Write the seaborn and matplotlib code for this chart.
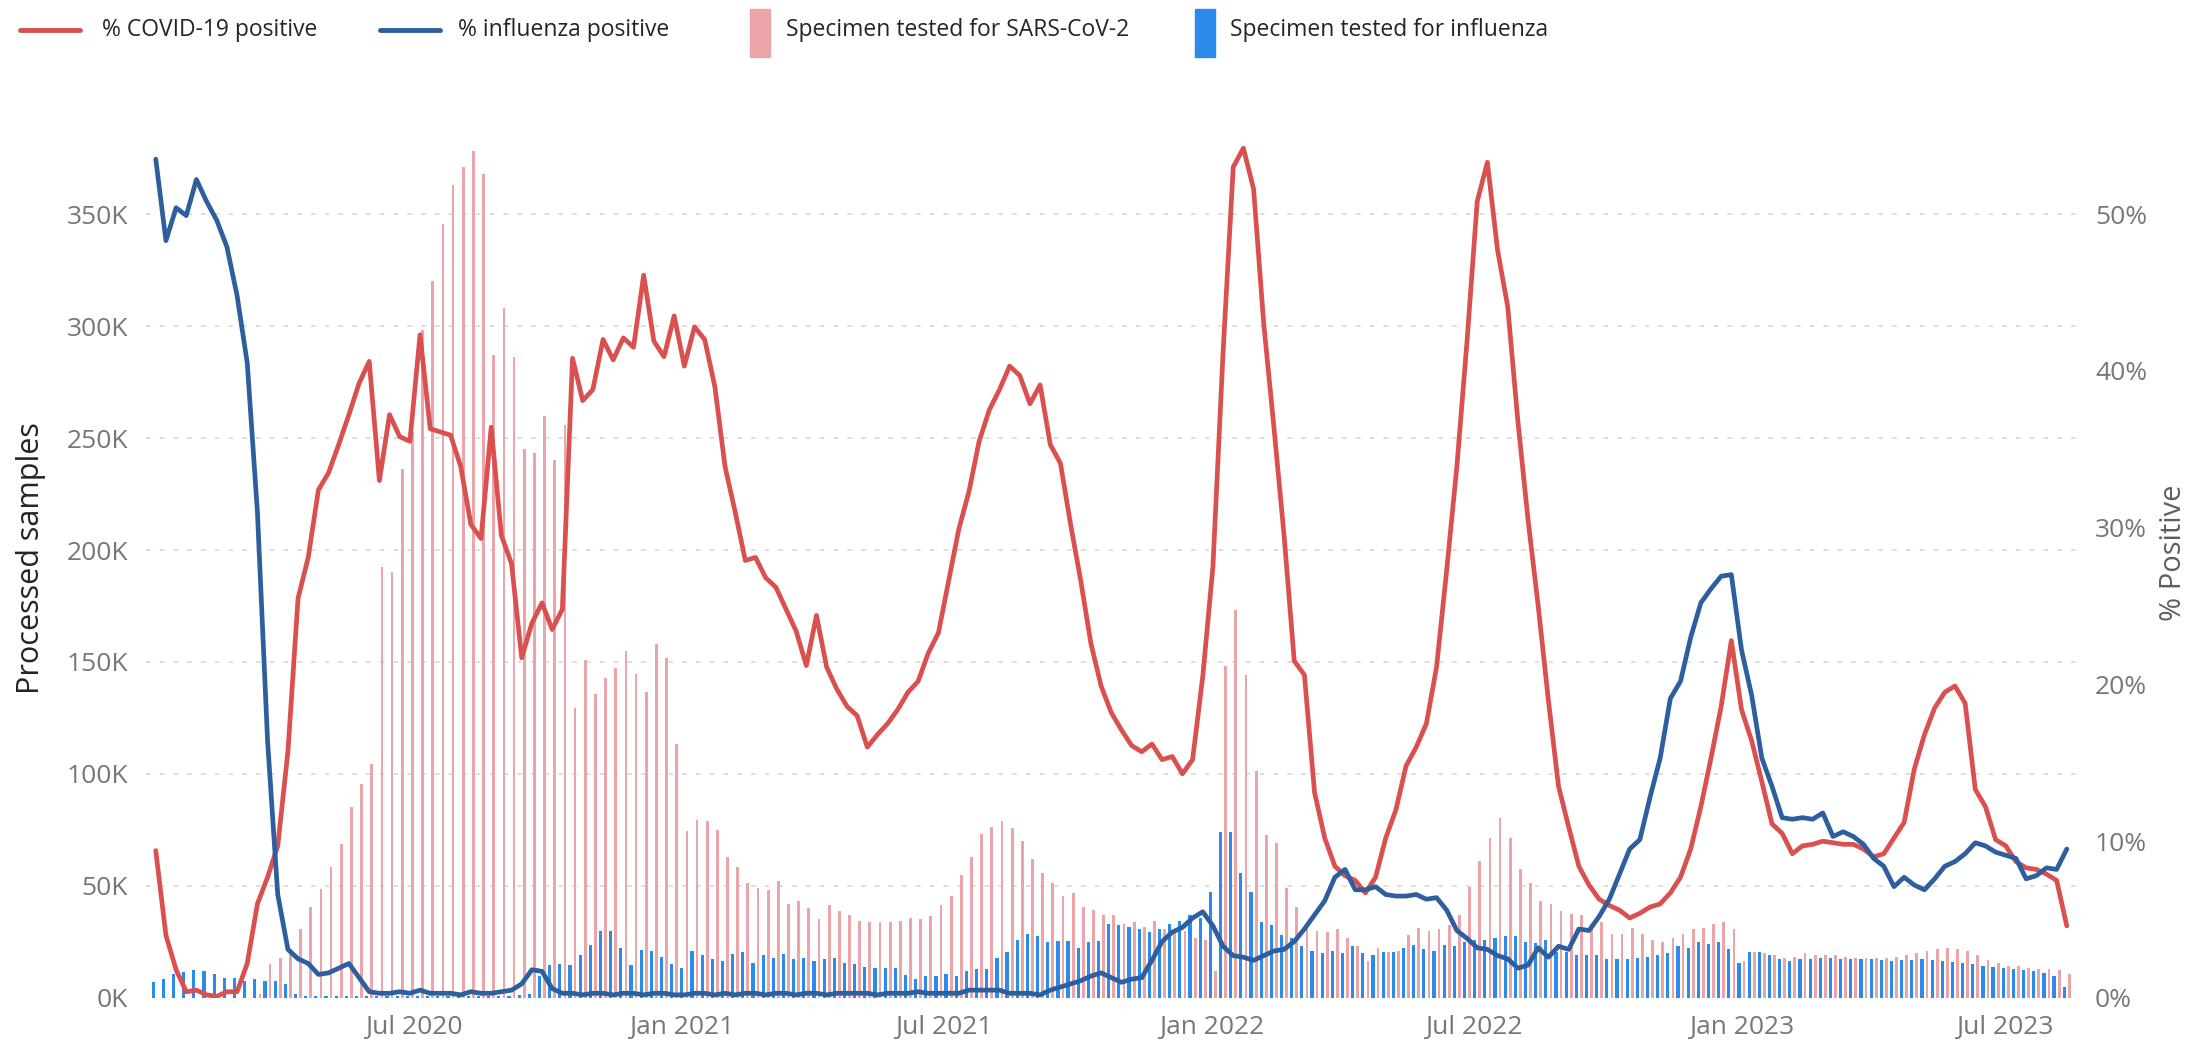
import numpy as np
import pandas as pd
import matplotlib
matplotlib.use("Agg")
import matplotlib.pyplot as plt
from matplotlib.lines import Line2D
from matplotlib.patches import Rectangle
from matplotlib.ticker import FixedLocator, FuncFormatter
import seaborn as sns

# ---------------------------------------------------------------------------
# Weekly surveillance data (first week starting 2020-01-05)
# ---------------------------------------------------------------------------
first_week = "2020-01-05"

# % of SARS-CoV-2 specimens testing positive
covid_pct = [
    9.4, 4.0, 1.8, 0.4, 0.5, 0.2, 0.1, 0.4, 0.4, 2.2,
    6.0, 7.7, 9.7, 15.7, 25.5, 28.1, 32.4, 33.5, 35.3, 37.2,
    39.2, 40.6, 33.0, 37.2, 35.8, 35.5, 42.3, 36.3, 36.1, 35.9,
    33.9, 30.2, 29.3, 36.4, 29.5, 27.7, 21.7, 23.9, 25.2, 23.5,
    24.8, 40.8, 38.1, 38.8, 42.0, 40.7, 42.1, 41.5, 46.1, 41.9,
    40.9, 43.5, 40.3, 42.8, 42.0, 39.0, 33.9, 31.0, 27.9, 28.1,
    26.8, 26.2, 24.8, 23.4, 21.2, 24.4, 21.1, 19.7, 18.6, 18.0,
    16.0, 16.8, 17.5, 18.4, 19.5, 20.2, 22.0, 23.3, 26.6, 29.9,
    32.3, 35.5, 37.5, 38.8, 40.3, 39.7, 37.9, 39.1, 35.3, 34.1,
    30.2, 26.6, 22.6, 19.9, 18.2, 17.1, 16.1, 15.7, 16.2, 15.2,
    15.4, 14.3, 15.2, 20.5, 27.5, 41.2, 53.0, 54.2, 51.6, 43.0,
    36.4, 29.5, 21.5, 20.6, 13.1, 10.2, 8.4, 7.8, 7.5, 6.7,
    7.7, 10.2, 12.0, 14.8, 16.0, 17.5, 21.1, 27.3, 33.9, 41.9,
    50.8, 53.3, 47.7, 44.1, 36.8, 30.5, 25.0, 19.0, 13.5, 10.9,
    8.4, 7.2, 6.3, 5.9, 5.6, 5.1, 5.4, 5.8, 6.0, 6.7,
    7.7, 9.5, 12.2, 15.3, 18.6, 22.8, 18.4, 16.4, 13.8, 11.1,
    10.5, 9.2, 9.7, 9.8, 10.0, 9.9, 9.8, 9.8, 9.5, 9.0,
    9.2, 10.2, 11.2, 14.6, 16.8, 18.5, 19.5, 19.9, 18.8, 13.3,
    12.2, 10.1, 9.7, 8.7, 8.3, 8.2, 7.9, 7.5, 4.6,
]

# % of influenza specimens testing positive
flu_pct = [
    53.5, 48.3, 50.4, 49.9, 52.2, 50.8, 49.6, 47.9, 44.8, 40.5,
    31.0, 16.4, 6.6, 3.1, 2.5, 2.2, 1.5, 1.6, 1.9, 2.2,
    1.3, 0.4, 0.3, 0.3, 0.4, 0.3, 0.5, 0.3, 0.3, 0.3,
    0.2, 0.4, 0.3, 0.3, 0.4, 0.5, 0.9, 1.8, 1.7, 0.6,
    0.3, 0.3, 0.2, 0.3, 0.3, 0.2, 0.3, 0.3, 0.2, 0.3,
    0.3, 0.2, 0.2, 0.3, 0.3, 0.2, 0.3, 0.2, 0.3, 0.3,
    0.2, 0.3, 0.3, 0.2, 0.3, 0.3, 0.2, 0.3, 0.3, 0.3,
    0.3, 0.2, 0.3, 0.3, 0.3, 0.4, 0.3, 0.3, 0.3, 0.3,
    0.5, 0.5, 0.5, 0.5, 0.3, 0.3, 0.3, 0.2, 0.5, 0.7,
    0.9, 1.1, 1.4, 1.6, 1.3, 1.0, 1.2, 1.3, 2.4, 3.6,
    4.2, 4.5, 5.1, 5.5, 4.6, 3.3, 2.7, 2.6, 2.4, 2.7,
    3.0, 3.1, 3.6, 4.4, 5.3, 6.2, 7.7, 8.2, 6.9, 6.9,
    7.1, 6.6, 6.5, 6.5, 6.6, 6.3, 6.4, 5.6, 4.3, 3.8,
    3.2, 3.1, 2.7, 2.5, 1.9, 2.1, 3.2, 2.6, 3.3, 3.1,
    4.4, 4.3, 5.2, 6.3, 7.9, 9.5, 10.1, 12.8, 15.3, 19.1,
    20.2, 23.0, 25.2, 26.1, 26.9, 27.0, 22.2, 19.3, 15.3, 13.5,
    11.5, 11.4, 11.5, 11.4, 11.8, 10.3, 10.6, 10.3, 9.8, 8.9,
    8.4, 7.1, 7.7, 7.2, 6.9, 7.6, 8.4, 8.7, 9.2, 9.9,
    9.7, 9.3, 9.1, 8.9, 7.6, 7.8, 8.3, 8.2, 9.5,
]

# Specimens tested for SARS-CoV-2 (thousands)
sars_tested_k = [
    0, 0, 0, 0, 0, 0, 0, 0, 0, 0,
    2, 15, 18, 22, 30.6, 40.8, 48.5, 58.7, 68.9, 85.4,
    95.6, 104.6, 192.5, 190, 236, 252.5, 298, 320, 345.5, 363,
    371, 378, 368, 287, 308, 286, 245, 243.5, 260, 240,
    256, 129.5, 151, 135.7, 142.8, 147.4, 155, 144.8, 136.4, 158,
    151.7, 113.5, 74.5, 79.6, 79, 75.2, 63, 58.7, 51.5, 49,
    48, 52.3, 42, 43.4, 40, 35.2, 41.3, 38.8, 37, 34.4,
    34, 33.7, 33.7, 34.4, 35.7, 35.2, 36.7, 41.3, 45.4, 54.8,
    63, 73.4, 76.5, 79, 76, 70.1, 62, 55.6, 51.5, 45.4,
    46.7, 40.8, 39.5, 37, 37, 33.2, 33.7, 31.9, 34.4, 30.6,
    30.6, 30, 27, 26, 12, 148, 173, 144, 101.5, 72.7,
    69.4, 49, 40.8, 30.6, 30, 29.3, 30.6, 26.8, 23, 16.6,
    22.4, 20.4, 21, 28, 31.1, 30, 30.6, 32.4, 37, 49.7,
    61.2, 71.4, 80.3, 71.4, 57.4, 51.5, 43.4, 42, 38.8, 37.7,
    37, 33, 33.7, 28.6, 28.6, 31.1, 28.6, 26, 25, 26.8,
    28.6, 30.6, 31.1, 33.2, 33.7, 30.6, 16.6, 20.4, 20, 19.1,
    17.9, 18.4, 20, 19.1, 19.1, 19.1, 18.4, 17.9, 17.9, 17.9,
    17.9, 18.4, 19.1, 20, 21, 22, 22.5, 22, 21, 19,
    17, 15.5, 14.5, 14.5, 13.5, 13, 13, 12.5, 10.5,
]

# Specimens tested for influenza (thousands)
flu_tested_k = [
    7.0, 8.5, 10.8, 11.5, 12.6, 12.0, 10.5, 9.0, 8.8, 7.8,
    8.5, 7.8, 7.8, 6.3, 1.8, 1.0, 1.0, 1.0, 1.0, 1.0,
    1.0, 1.0, 1.0, 1.0, 1.0, 1.0, 1.0, 1.0, 1.0, 1.0,
    1.0, 1.0, 1.0, 1.0, 1.0, 1.0, 1.2, 2.0, 10.0, 14.8,
    15.3, 14.8, 19.1, 23.7, 30.1, 30.1, 22.2, 14.8, 21.2, 20.9,
    18.4, 15.3, 13.3, 20.9, 19.1, 17.3, 16.6, 19.6, 20.4, 15.8,
    19.1, 17.9, 19.6, 17.3, 17.9, 16.6, 17.3, 17.9, 15.8, 15.3,
    14.0, 13.3, 13.3, 13.3, 10.2, 8.4, 9.7, 9.7, 10.7, 9.7,
    12.2, 12.8, 12.8, 17.9, 20.4, 26.0, 28.6, 27.5, 25.0, 25.5,
    25.5, 22.4, 25.0, 25.5, 33.2, 32.6, 31.9, 30.6, 29.3, 30.6,
    33.2, 34.4, 37.0, 35.7, 47.2, 74.0, 74.0, 56.0, 47.2, 33.7,
    32.4, 28.0, 26.8, 23.0, 21.0, 20.0, 21.0, 20.0, 23.0, 20.0,
    19.0, 20.4, 20.4, 22.4, 23.5, 21.7, 21.0, 23.5, 23.0, 25.0,
    26.0, 26.0, 26.8, 27.5, 27.5, 25.0, 24.5, 26.0, 20.4, 20.4,
    19.1, 19.1, 19.1, 17.3, 17.3, 17.3, 17.9, 18.4, 19.1, 20.0,
    23.0, 22.4, 25.0, 24.2, 25.0, 21.7, 15.8, 20.4, 20.4, 19.1,
    17.3, 16.6, 17.3, 17.3, 17.9, 17.9, 17.3, 17.3, 17.3, 17.3,
    17.0, 16.6, 17.0, 17.0, 17.3, 17.0, 16.6, 16.0, 15.8, 15.0,
    14.5, 14.0, 13.5, 13.0, 12.5, 12.0, 11.0, 10.0, 5.0,
]

# Axis tick values and labels
sample_ticks_k = [0, 50, 100, 150, 200, 250, 300, 350]
pct_ticks = [0, 10, 20, 30, 40, 50]
date_ticks = ["2020-07-01", "2021-01-01", "2021-07-01", "2022-01-01",
              "2022-07-01", "2023-01-01", "2023-07-01"]
date_tick_labels = ["Jul 2020", "Jan 2021", "Jul 2021", "Jan 2022",
                    "Jul 2022", "Jan 2023", "Jul 2023"]

legend_labels = ["% COVID-19 positive", "% influenza positive",
                 "Specimen tested for SARS-CoV-2", "Specimen tested for influenza"]

# ---------------------------------------------------------------------------
weeks = pd.date_range(first_week, periods=len(covid_pct), freq="7D")
df = pd.DataFrame({
    "week": weeks,
    "covid_pct": covid_pct,
    "flu_pct": flu_pct,
    "sars_tested_k": sars_tested_k,
    "flu_tested_k": flu_tested_k,
})

COVID_LINE = "#D9504F"
FLU_LINE = "#2D5E9E"
SARS_BAR = "#EBA4A8"
FLU_BAR = "#2B8AEB"
TICK_COLOR = "#777777"
TITLE_COLOR = "#252423"

sns.set_theme(style="white")
plt.rcParams["font.family"] = ["Open Sans", "DejaVu Sans"]

W, H = 2206, 1040
fig = plt.figure(figsize=(W / 100, H / 100), dpi=100)
fig.patch.set_facecolor("white")

ax = fig.add_axes([0.0660, 0.0404, 0.8755, 0.8292])
ax.set_facecolor("white")

# Clustered weekly columns: influenza on the left, SARS-CoV-2 on the right
ax.bar(df["week"] - pd.Timedelta(days=1.75), df["flu_tested_k"], width=2.2,
       color=FLU_BAR, linewidth=0, zorder=2)
ax.bar(df["week"] + pd.Timedelta(days=1.75), df["sars_tested_k"], width=1.9,
       color=SARS_BAR, linewidth=0, zorder=2)

ax.set_ylim(0, 385)
ax.set_xlim(weeks[0] - pd.Timedelta(days=7), weeks[-1] + pd.Timedelta(days=7))
ax.yaxis.set_major_locator(FixedLocator(sample_ticks_k))
ax.yaxis.set_major_formatter(FuncFormatter(lambda v, _: f"{v:.0f}K"))
ax.grid(axis="y", color="#D4D4D4", linestyle=(0, (3, 6)), linewidth=1.1)
ax.grid(axis="x", visible=False)
ax.set_axisbelow(True)
ax.get_ygridlines()[0].set_visible(False)

ax.set_xticks(pd.to_datetime(date_ticks))
ax.set_xticklabels(date_tick_labels)
ax.tick_params(axis="x", length=0, pad=12, labelsize=19, labelcolor=TICK_COLOR)
ax.tick_params(axis="y", length=0, pad=12.5, labelsize=19, labelcolor=TICK_COLOR)

ax.set_ylabel("Processed samples", fontsize=22, color=TITLE_COLOR)
ax.yaxis.label.set(va="center", ha="center", rotation_mode="anchor")
ax.yaxis.set_label_coords(-0.0593, 0.51)

# Positivity lines on the secondary axis
ax2 = ax.twinx()
sns.lineplot(data=df, x="week", y="covid_pct", ax=ax2, color=COVID_LINE,
             linewidth=3.4, legend=False, zorder=4)
sns.lineplot(data=df, x="week", y="flu_pct", ax=ax2, color=FLU_LINE,
             linewidth=3.4, legend=False, zorder=5)
ax2.set_ylim(0, 55)
ax2.yaxis.set_major_locator(FixedLocator(pct_ticks))
ax2.yaxis.set_major_formatter(FuncFormatter(lambda v, _: f"{v:.0f}%"))
ax2.tick_params(axis="y", length=0, pad=13, labelsize=19, labelcolor=TICK_COLOR)
ax2.set_xlabel("")
ax2.set_ylabel("% Positive", fontsize=21, color="#5E5E5E")
ax2.yaxis.label.set(va="center", ha="center", rotation=90, rotation_mode="anchor")
ax2.yaxis.set_label_coords(1.0502, 0.516)
ax2.grid(False)

for a in (ax, ax2):
    for s in a.spines.values():
        s.set_visible(False)

# Legend row across the top
def fx(px):
    return px / W


def fy(py):
    return 1 - py / H


leg_y = 30
leg_size = 16.5
fig.add_artist(Line2D([fx(20), fx(80)], [fy(leg_y), fy(leg_y)], color=COVID_LINE,
                      lw=3.5, transform=fig.transFigure))
fig.text(fx(102), fy(leg_y), legend_labels[0], ha="left", va="center",
         fontsize=leg_size, color=TITLE_COLOR)
fig.add_artist(Line2D([fx(380), fx(440)], [fy(leg_y), fy(leg_y)], color=FLU_LINE,
                      lw=3.5, transform=fig.transFigure))
fig.text(fx(458), fy(leg_y), legend_labels[1], ha="left", va="center",
         fontsize=leg_size, color=TITLE_COLOR)
fig.add_artist(Rectangle((fx(750), fy(57)), fx(20), 48 / H, color=SARS_BAR,
                         transform=fig.transFigure))
fig.text(fx(786), fy(leg_y), legend_labels[2], ha="left", va="center",
         fontsize=leg_size, color=TITLE_COLOR)
fig.add_artist(Rectangle((fx(1195), fy(57)), fx(20), 48 / H, color=FLU_BAR,
                         transform=fig.transFigure))
fig.text(fx(1230), fy(leg_y), legend_labels[3], ha="left", va="center",
         fontsize=leg_size, color=TITLE_COLOR)

fig.savefig("out.png", dpi=100, facecolor="white")
